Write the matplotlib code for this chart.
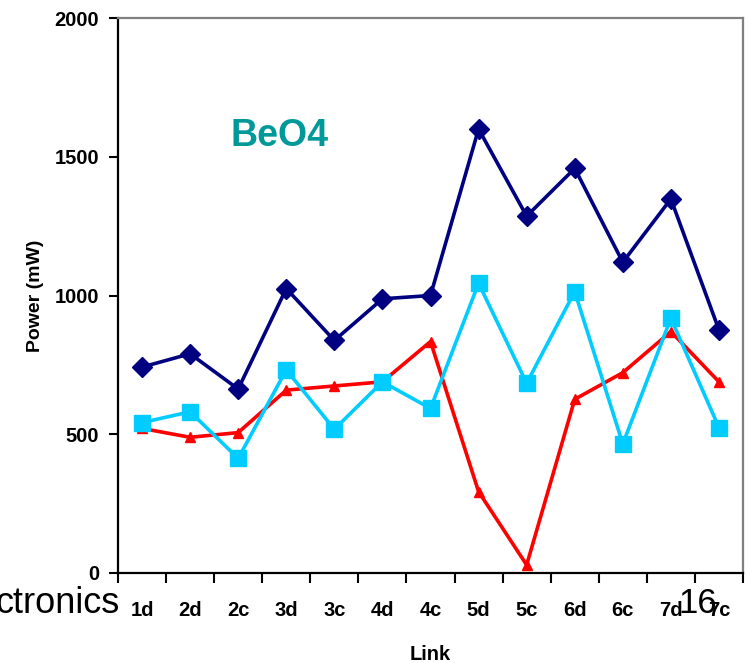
import matplotlib
matplotlib.use("Agg")
import matplotlib.pyplot as plt
import numpy as np

plt.rcParams["font.family"] = ["Liberation Sans", "DejaVu Sans"]

links = ["1d", "2d", "2c", "3d", "3c", "4d", "4c", "5d", "5c", "6d", "6c", "7d", "7c"]
navy_vals = [742, 790, 663, 1025, 838, 988, 1000, 1600, 1286, 1458, 1120, 1348, 876]
red_vals = [521, 489, 506, 659, 674, 689, 834, 293, 29, 626, 722, 870, 689]
cyan_vals = [542, 581, 413, 732, 518, 689, 593, 1044, 684, 1014, 465, 918, 524]

fig = plt.figure(figsize=(7.48, 6.63), dpi=100)
ax = fig.add_axes([118 / 748, 90 / 663, 625 / 748, 555 / 663])

x = np.arange(len(links))
ax.plot(x, navy_vals, color="#000080", lw=2.6, marker="D", ms=10, zorder=3)
ax.plot(x, red_vals, color="#FF0000", lw=2.6, marker="^", ms=7.5, zorder=4)
ax.plot(x, cyan_vals, color="#00CCFF", lw=2.6, marker="s", ms=12, mec="#00CCFF", zorder=5)

ax.set_xlim(-0.5, len(links) - 0.5)
ax.set_ylim(0, 2000)
ax.set_yticks(np.arange(0, 2001, 500))

# category boundaries carry the tick marks, labels sit at the centres
ax.set_xticks(np.arange(-0.5, len(links)), labels=[])
ax.set_xticks(x, minor=True)
ax.set_xticklabels(links, minor=True, fontweight="bold", fontsize=14.5)
ax.tick_params(axis="x", which="major", direction="out", length=7, width=1.5)
ax.tick_params(axis="x", which="minor", length=0, pad=20)
ax.tick_params(axis="y", direction="out", length=6.5, width=1.5, pad=7, labelsize=14.5)
for t in ax.get_yticklabels():
    t.set_fontweight("bold")

for s in ["left", "bottom"]:
    ax.spines[s].set_linewidth(1.6)
    ax.spines[s].set_color("black")
for s in ["top", "right"]:
    ax.spines[s].set_linewidth(1.6)
    ax.spines[s].set_color("#808080")

ax.set_xlabel("Link", fontweight="bold", fontsize=14.5, labelpad=18)
ax.set_ylabel("Power (mW)", fontweight="bold", fontsize=14, labelpad=8)

fig.text(280 / 748, 1 - 136 / 663, "BeO4", color="#009999", fontsize=27,
         fontweight="bold", ha="center", va="center")
fig.text(120 / 748, 1 - 613 / 663, "ctronics", fontsize=26, ha="right", va="baseline")
fig.text(698 / 748, 1 - 613 / 663, "16", fontsize=25, ha="center", va="baseline")

fig.savefig("out.png", dpi=100)
